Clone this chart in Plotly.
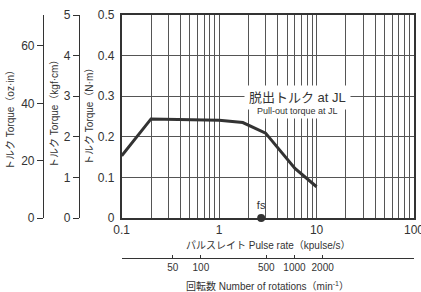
import plotly.graph_objects as go

# ---- data ----
pulse_rate = [0.1, 0.2, 1.0, 1.75, 3.0, 6.0, 10.0]          # kpulse/s
torque_nm = [0.153, 0.244, 0.241, 0.235, 0.209, 0.122, 0.077]  # N·m
fs_rate = [2.7]
fs_torque = [0.0]

x_ticks = [0.1, 1, 10, 100]
x_tick_text = ["0.1", "1", "10", "100"]
y_ticks_nm = [0, 0.1, 0.2, 0.3, 0.4, 0.5]
y_ticks_kgf = [0, 1, 2, 3, 4, 5]
y_ticks_oz = [0, 20, 40, 60]
rpm_ticks = [50, 100, 500, 1000, 2000]

FONT = "Liberation Sans, Arial, Noto Sans CJK JP"
TXT = "#333333"
W, H = 421, 292
ML, MR, MT, MB = 5, 7, 15, 2
PW, PH = W - ML - MR, H - MT - MB


def px(x):
    return (x - ML) / PW


def py(y):
    return (H - MB - y) / PH


minor_vals = [m * 10 ** e for e in (-1, 0, 1) for m in range(2, 10)]

fig = go.Figure()
fig.add_trace(go.Scatter(x=pulse_rate, y=torque_nm, mode="lines",
                         line=dict(color="#333333", width=3), hoverinfo="skip",
                         cliponaxis=False))
fig.add_trace(go.Scatter(x=fs_rate, y=fs_torque, mode="markers+text",
                         marker=dict(color="#333333", size=8), text=["fs"],
                         textposition="top center",
                         textfont=dict(size=11, color=TXT, family=FONT),
                         cliponaxis=False, hoverinfo="skip"))
# helper traces so the extra axes exist
fig.add_trace(go.Scatter(x=[1], y=[0], xaxis="x", yaxis="y2", mode="markers",
                         marker=dict(opacity=0), hoverinfo="skip"))
fig.add_trace(go.Scatter(x=[1], y=[0], xaxis="x", yaxis="y3", mode="markers",
                         marker=dict(opacity=0), hoverinfo="skip"))
fig.add_trace(go.Scatter(x=[100], y=[0], xaxis="x2", yaxis="y", mode="markers",
                         marker=dict(opacity=0), hoverinfo="skip"))

xdom = [px(121.7), 1.0]
ydom = [py(218), 1.0]

fig.update_layout(
    width=W, height=H, margin=dict(l=ML, r=MR, t=MT, b=MB, autoexpand=False),
    paper_bgcolor="white", plot_bgcolor="white", showlegend=False,
    font=dict(family=FONT, color=TXT, size=12),
    xaxis=dict(type="log", range=[-1, 2], domain=xdom, tickvals=x_ticks,
               ticktext=x_tick_text, showgrid=True, gridcolor="#555555",
               gridwidth=1, showline=True, linecolor="#333333", linewidth=1.5,
               mirror=True, ticks="", zeroline=False, automargin=False,
               ticklabeloverflow="allow",
               tickfont=dict(size=12, color=TXT),
               minor=dict(tickvals=minor_vals, showgrid=True,
                          gridcolor="#555555", gridwidth=1, ticks="")),
    xaxis2=dict(type="log", range=[1.154, 4.277], domain=xdom, overlaying="x",
                anchor="free", position=py(258), side="bottom",
                tickvals=rpm_ticks, ticktext=[str(v) for v in rpm_ticks],
                showgrid=False, showline=True, linecolor="#333333",
                linewidth=1.2, ticks="inside", ticklen=3, tickcolor="#333333",
                tickfont=dict(size=10, color=TXT), zeroline=False,
                automargin=False),
    yaxis=dict(range=[0, 0.5], domain=ydom, tickvals=y_ticks_nm,
               ticktext=["0", "0.1", "0.2", "0.3", "0.4", "0.5"],
               showgrid=True, gridcolor="#555555", gridwidth=1,
               showline=True, linecolor="#333333", linewidth=1.5, mirror=True,
               ticks="outside", ticklen=3, tickcolor="rgba(0,0,0,0)",
               zeroline=False, automargin=False,
               tickfont=dict(size=12, color=TXT)),
    yaxis2=dict(range=[0, 5], domain=ydom, overlaying="y", anchor="free",
                position=px(79), side="left", tickvals=y_ticks_kgf,
                showgrid=False, showline=True, linecolor="#333333",
                linewidth=1.2, ticks="outside", ticklen=6, tickcolor="#333333",
                zeroline=False, automargin=False,
                tickfont=dict(size=12, color=TXT)),
    yaxis3=dict(range=[0, 70.8], domain=ydom, overlaying="y", anchor="free",
                position=px(43), side="left", tickvals=y_ticks_oz,
                showgrid=False, showline=True, linecolor="#333333",
                linewidth=1.2, ticks="outside", ticklen=6, tickcolor="#333333",
                zeroline=False, automargin=False,
                tickfont=dict(size=12, color=TXT)),
)


def label(xp, yp, text, size, angle=0, bg=None, pad=1):
    d = dict(x=px(xp), y=py(yp), xref="paper", yref="paper", text=text,
             showarrow=False, xanchor="center", yanchor="middle",
             textangle=angle, font=dict(size=size, color=TXT), borderpad=pad)
    if bg:
        d["bgcolor"] = bg
    return d


ann = [
    label(268, 245, "パルスレイト Pulse rate（kpulse/s）", 10),
    label(267.5, 286, "回転数 Number of rotations（min<sup>-1</sup>）", 10),
    label(89, 114, "トルク Torque（N·m）", 10, angle=-90),
    label(54, 112, "トルク Torque（kgf·cm）", 10, angle=-90),
    label(11, 118, "トルク Torque（oz·in）", 10, angle=-90),
    label(297, 97, "脱出トルク at JL", 13, bg="white", pad=4),
    label(297, 111, "Pull-out torque at JL", 9, bg="white", pad=2),
]
fig.update_layout(annotations=ann)

fig.write_html("out.html", config={"displayModeBar": False},
               post_script="document.body.style.margin='0';")
